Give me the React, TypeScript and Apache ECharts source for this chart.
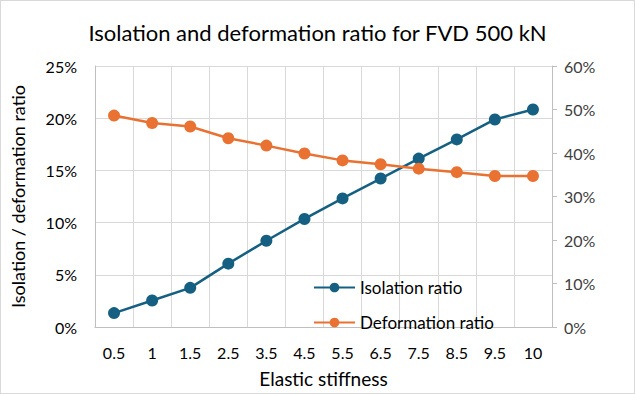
import React, { useEffect, useRef } from "react";
import * as echarts from "echarts";

const categories = ["0.5", "1", "1.5", "2.5", "3.5", "4.5", "5.5", "6.5", "7.5", "8.5", "9.5", "10"];
const isolationRatio = [1.33, 2.54, 3.75, 6.07, 8.26, 10.35, 12.32, 14.22, 16.13, 17.97, 19.88, 20.83];
const deformationRatio = [48.6, 46.9, 46.1, 43.4, 41.7, 39.9, 38.3, 37.4, 36.4, 35.6, 34.7, 34.7];

const FONT = "Lato, 'Open Sans', sans-serif";

export default function App() {
  const ref = useRef<HTMLDivElement>(null);
  useEffect(() => {
    if (!ref.current) return;
    const chart = echarts.init(ref.current, undefined, { renderer: "svg" });
    chart.setOption({
      animation: false,
      backgroundColor: "#ffffff",
      textStyle: { fontFamily: FONT },
      title: {
        text: "Isolation and deformation ratio for FVD 500 kN",
        left: "center",
        top: 15,
        textStyle: { fontFamily: FONT, fontSize: 22, fontWeight: "normal", color: "#000000" },
      },
      legend: {
        orient: "vertical",
        left: 312,
        top: 278,
        padding: 0,
        itemWidth: 41,
        itemHeight: 12,
        itemGap: 18,
        textStyle: { fontFamily: FONT, fontSize: 17, color: "#000000" },
        data: ["Isolation ratio", "Deformation ratio"],
      },
      grid: { left: 90, right: 82, top: 65, bottom: 66, containLabel: false },
      xAxis: {
        type: "category",
        data: categories,
        boundaryGap: true,
        name: "Elastic stiffness",
        nameLocation: "middle",
        nameGap: 42,
        nameTextStyle: { fontFamily: FONT, fontSize: 19, color: "#000000" },
        axisLine: { show: true, lineStyle: { color: "#bfbfbf", width: 1 } },
        axisTick: { show: false },
        axisLabel: { fontFamily: FONT, fontSize: 16, color: "#000000", margin: 17 },
        splitLine: { show: true, lineStyle: { color: "#d9d9d9", width: 1 } },
      },
      yAxis: [
        {
          type: "value",
          min: 0,
          max: 25,
          interval: 5,
          name: "Isolation / deformation ratio",
          nameLocation: "middle",
          nameGap: 68,
          nameTextStyle: { fontFamily: FONT, fontSize: 18, color: "#000000" },
          axisLine: { show: true, lineStyle: { color: "#bfbfbf", width: 1 } },
          axisTick: { show: false },
          axisLabel: { fontFamily: FONT, fontSize: 16, color: "#000000", margin: 18, formatter: "{value}%" },
          splitLine: { show: true, lineStyle: { color: "#d9d9d9", width: 1 } },
        },
        {
          type: "value",
          min: 0,
          max: 60,
          interval: 10,
          position: "right",
          axisLine: { show: true, lineStyle: { color: "#bfbfbf", width: 1 } },
          axisTick: { show: true, inside: false, length: 5, lineStyle: { color: "#bfbfbf" } },
          axisLabel: { fontFamily: FONT, fontSize: 16, color: "#404040", margin: 12, formatter: "{value}%" },
          splitLine: { show: false },
        },
      ],
      series: [
        {
          name: "Isolation ratio",
          type: "line",
          yAxisIndex: 0,
          data: isolationRatio,
          symbol: "circle",
          symbolSize: 12,
          itemStyle: { color: "#156082" },
          lineStyle: { color: "#156082", width: 2.5 },
        },
        {
          name: "Deformation ratio",
          type: "line",
          yAxisIndex: 1,
          data: deformationRatio,
          symbol: "circle",
          symbolSize: 12,
          itemStyle: { color: "#E97132" },
          lineStyle: { color: "#E97132", width: 2.5 },
        },
      ],
    });
    return () => chart.dispose();
  }, []);
  return (
    <div
      ref={ref}
      style={{
        position: "fixed",
        left: 0,
        top: 0,
        width: 635,
        height: 394,
        boxSizing: "border-box",
        border: "1px solid #d9d9d9",
        background: "#fff",
      }}
    />
  );
}
